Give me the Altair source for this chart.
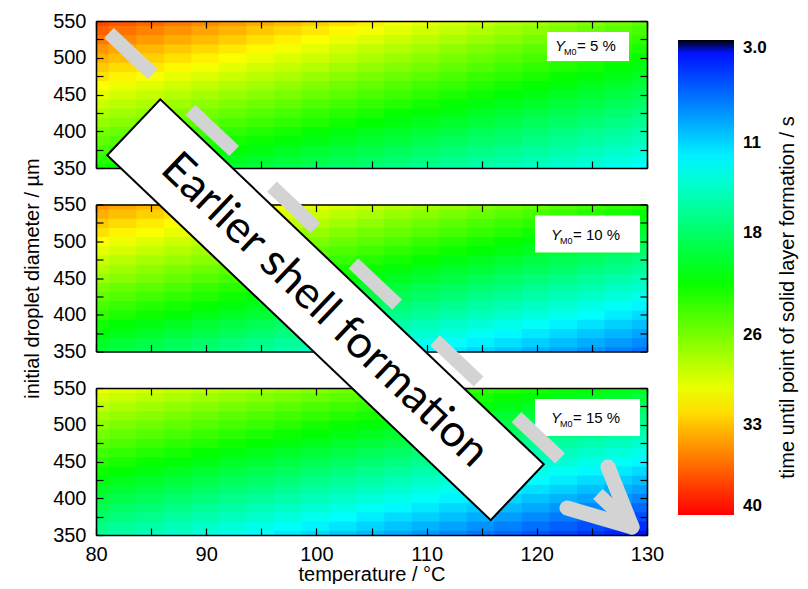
import altair as alt
import pandas as pd

FONT = "Liberation Sans"

# grid of the maps (cell centres)
temperatures = [80, 82.5, 85, 87.5, 90, 92.5, 95, 97.5, 100, 102.5, 105,
                107.5, 110, 112.5, 115, 117.5, 120, 122.5, 125, 127.5, 130]
diameters = [350, 362.5, 375, 387.5, 400, 412.5, 425, 437.5, 450, 462.5,
             475, 487.5, 500, 512.5, 525, 537.5, 550]

# time until solid layer formation / s (rows: diameter 350 -> 550)
time_y5 = [
    [22.2, 21.7, 21.2, 20.7, 20.3, 19.8, 19.3, 18.8, 18.3, 17.8, 17.4, 16.9, 16.4, 15.9, 15.4, 14.9, 14.4, 14.0, 13.5, 13.0, 12.5],
    [23.2, 22.7, 22.2, 21.7, 21.2, 20.7, 20.2, 19.7, 19.2, 18.7, 18.2, 17.7, 17.2, 16.7, 16.2, 15.8, 15.3, 14.8, 14.3, 13.8, 13.3],
    [24.1, 23.6, 23.1, 22.6, 22.1, 21.6, 21.1, 20.6, 20.1, 19.6, 19.1, 18.6, 18.1, 17.6, 17.1, 16.6, 16.1, 15.6, 15.1, 14.6, 14.1],
    [25.1, 24.6, 24.1, 23.5, 23.0, 22.5, 22.0, 21.5, 21.0, 20.5, 20.0, 19.5, 18.9, 18.4, 17.9, 17.4, 16.9, 16.4, 15.9, 15.4, 14.9],
    [26.0, 25.5, 25.0, 24.5, 23.9, 23.4, 22.9, 22.4, 21.9, 21.3, 20.8, 20.3, 19.8, 19.3, 18.7, 18.2, 17.7, 17.2, 16.7, 16.1, 15.6],
    [27.0, 26.5, 25.9, 25.4, 24.9, 24.3, 23.8, 23.3, 22.8, 22.2, 21.7, 21.2, 20.6, 20.1, 19.6, 19.0, 18.5, 18.0, 17.5, 16.9, 16.4],
    [27.9, 27.4, 26.9, 26.3, 25.8, 25.3, 24.7, 24.2, 23.6, 23.1, 22.6, 22.0, 21.5, 21.0, 20.4, 19.9, 19.3, 18.8, 18.3, 17.7, 17.2],
    [28.9, 28.3, 27.8, 27.3, 26.7, 26.2, 25.6, 25.1, 24.5, 24.0, 23.4, 22.9, 22.3, 21.8, 21.2, 20.7, 20.2, 19.6, 19.1, 18.5, 18.0],
    [29.9, 29.3, 28.7, 28.2, 27.6, 27.1, 26.5, 26.0, 25.4, 24.9, 24.3, 23.8, 23.2, 22.6, 22.1, 21.5, 21.0, 20.4, 19.9, 19.3, 18.8],
    [30.8, 30.2, 29.7, 29.1, 28.5, 28.0, 27.4, 26.9, 26.3, 25.7, 25.2, 24.6, 24.0, 23.5, 22.9, 22.3, 21.8, 21.2, 20.6, 20.1, 19.5],
    [31.8, 31.2, 30.6, 30.0, 29.5, 28.9, 28.3, 27.8, 27.2, 26.6, 26.0, 25.5, 24.9, 24.3, 23.7, 23.2, 22.6, 22.0, 21.5, 20.9, 20.3],
    [32.7, 32.1, 31.6, 31.0, 30.4, 29.8, 29.2, 28.7, 28.1, 27.5, 26.9, 26.3, 25.8, 25.2, 24.6, 24.0, 23.4, 22.8, 22.3, 21.7, 21.1],
    [33.7, 33.1, 32.5, 31.9, 31.3, 30.7, 30.1, 29.5, 29.0, 28.4, 27.8, 27.2, 26.6, 26.0, 25.4, 24.8, 24.2, 23.6, 23.1, 22.5, 21.9],
    [34.6, 34.0, 33.4, 32.8, 32.2, 31.6, 31.0, 30.4, 29.8, 29.2, 28.6, 28.0, 27.4, 26.8, 26.2, 25.6, 25.0, 24.4, 23.8, 23.2, 22.6],
    [35.6, 35.0, 34.4, 33.8, 33.2, 32.6, 31.9, 31.3, 30.7, 30.1, 29.5, 28.9, 28.3, 27.7, 27.1, 26.5, 25.9, 25.3, 24.7, 24.1, 23.4],
    [36.5, 35.9, 35.3, 34.7, 34.1, 33.5, 32.8, 32.2, 31.6, 31.0, 30.4, 29.8, 29.1, 28.5, 27.9, 27.3, 26.7, 26.1, 25.5, 24.8, 24.2],
    [37.5, 36.9, 36.3, 35.6, 35.0, 34.4, 33.8, 33.1, 32.5, 31.9, 31.3, 30.6, 30.0, 29.4, 28.8, 28.1, 27.5, 26.9, 26.3, 25.6, 25.0],
]
time_y10 = [
    [19.5, 18.9, 18.3, 17.7, 17.1, 16.5, 15.9, 15.3, 14.7, 14.1, 13.5, 12.8, 12.2, 11.6, 11.0, 10.4, 9.8, 9.2, 8.6, 8.0, 7.4],
    [20.4, 19.8, 19.2, 18.6, 18.0, 17.4, 16.8, 16.2, 15.6, 15.0, 14.4, 13.8, 13.2, 12.6, 12.0, 11.4, 10.8, 10.2, 9.6, 9.0, 8.4],
    [21.4, 20.8, 20.2, 19.6, 19.0, 18.4, 17.8, 17.2, 16.6, 16.0, 15.4, 14.8, 14.2, 13.6, 12.9, 12.3, 11.7, 11.1, 10.5, 9.9, 9.3],
    [22.3, 21.7, 21.1, 20.5, 19.9, 19.3, 18.7, 18.1, 17.5, 16.9, 16.3, 15.7, 15.1, 14.5, 13.9, 13.3, 12.7, 12.1, 11.5, 10.9, 10.3],
    [23.3, 22.7, 22.1, 21.5, 20.9, 20.3, 19.7, 19.1, 18.5, 17.9, 17.3, 16.7, 16.1, 15.5, 14.9, 14.3, 13.7, 13.1, 12.5, 11.9, 11.3],
    [24.2, 23.6, 23.0, 22.4, 21.8, 21.2, 20.6, 20.0, 19.4, 18.8, 18.2, 17.6, 17.0, 16.4, 15.8, 15.2, 14.6, 14.0, 13.4, 12.8, 12.2],
    [25.2, 24.6, 24.0, 23.4, 22.8, 22.2, 21.6, 21.0, 20.4, 19.8, 19.2, 18.6, 18.0, 17.4, 16.8, 16.2, 15.6, 15.0, 14.4, 13.8, 13.2],
    [26.1, 25.5, 24.9, 24.3, 23.7, 23.1, 22.5, 21.9, 21.3, 20.7, 20.1, 19.5, 18.9, 18.3, 17.7, 17.1, 16.5, 15.9, 15.3, 14.7, 14.2],
    [27.1, 26.5, 25.9, 25.3, 24.7, 24.1, 23.5, 22.9, 22.3, 21.7, 21.1, 20.5, 19.9, 19.3, 18.7, 18.1, 17.5, 16.9, 16.3, 15.7, 15.1],
    [28.0, 27.4, 26.8, 26.2, 25.6, 25.0, 24.4, 23.8, 23.2, 22.6, 22.0, 21.4, 20.8, 20.2, 19.7, 19.1, 18.5, 17.9, 17.3, 16.7, 16.1],
    [28.9, 28.3, 27.7, 27.2, 26.6, 26.0, 25.4, 24.8, 24.2, 23.6, 23.0, 22.4, 21.8, 21.2, 20.6, 20.0, 19.4, 18.8, 18.2, 17.6, 17.0],
    [29.9, 29.3, 28.7, 28.1, 27.5, 26.9, 26.3, 25.7, 25.1, 24.5, 23.9, 23.3, 22.7, 22.1, 21.6, 21.0, 20.4, 19.8, 19.2, 18.6, 18.0],
    [30.8, 30.2, 29.6, 29.0, 28.5, 27.9, 27.3, 26.7, 26.1, 25.5, 24.9, 24.3, 23.7, 23.1, 22.5, 21.9, 21.3, 20.7, 20.1, 19.5, 19.0],
    [31.8, 31.2, 30.6, 30.0, 29.4, 28.8, 28.2, 27.6, 27.0, 26.4, 25.8, 25.3, 24.7, 24.1, 23.5, 22.9, 22.3, 21.7, 21.1, 20.5, 19.9],
    [32.7, 32.1, 31.5, 30.9, 30.4, 29.8, 29.2, 28.6, 28.0, 27.4, 26.8, 26.2, 25.6, 25.0, 24.4, 23.8, 23.3, 22.7, 22.1, 21.5, 20.9],
    [33.7, 33.1, 32.5, 31.9, 31.3, 30.7, 30.1, 29.5, 28.9, 28.3, 27.8, 27.2, 26.6, 26.0, 25.4, 24.8, 24.2, 23.6, 23.0, 22.4, 21.8],
    [34.6, 34.0, 33.4, 32.8, 32.2, 31.7, 31.1, 30.5, 29.9, 29.3, 28.7, 28.1, 27.5, 26.9, 26.3, 25.8, 25.2, 24.6, 24.0, 23.4, 22.8],
]
time_y15 = [
    [16.0, 15.4, 14.8, 14.2, 13.6, 13.0, 12.4, 11.8, 11.2, 10.6, 10.0, 9.4, 8.8, 8.2, 7.6, 7.0, 6.4, 5.8, 5.2, 4.6, 4.0],
    [16.9, 16.3, 15.7, 15.1, 14.5, 13.9, 13.3, 12.7, 12.1, 11.6, 11.0, 10.4, 9.8, 9.2, 8.6, 8.0, 7.4, 6.8, 6.2, 5.6, 5.0],
    [17.8, 17.2, 16.6, 16.0, 15.4, 14.9, 14.3, 13.7, 13.1, 12.5, 11.9, 11.3, 10.8, 10.2, 9.6, 9.0, 8.4, 7.8, 7.2, 6.7, 6.1],
    [18.7, 18.1, 17.5, 16.9, 16.3, 15.8, 15.2, 14.6, 14.0, 13.5, 12.9, 12.3, 11.7, 11.1, 10.6, 10.0, 9.4, 8.8, 8.3, 7.7, 7.1],
    [19.6, 19.0, 18.4, 17.8, 17.3, 16.7, 16.1, 15.6, 15.0, 14.4, 13.8, 13.3, 12.7, 12.1, 11.6, 11.0, 10.4, 9.8, 9.3, 8.7, 8.1],
    [20.4, 19.9, 19.3, 18.7, 18.2, 17.6, 17.1, 16.5, 15.9, 15.4, 14.8, 14.2, 13.7, 13.1, 12.5, 12.0, 11.4, 10.9, 10.3, 9.7, 9.2],
    [21.3, 20.8, 20.2, 19.7, 19.1, 18.5, 18.0, 17.4, 16.9, 16.3, 15.8, 15.2, 14.6, 14.1, 13.5, 13.0, 12.4, 11.9, 11.3, 10.8, 10.2],
    [22.2, 21.7, 21.1, 20.6, 20.0, 19.5, 18.9, 18.4, 17.8, 17.3, 16.7, 16.2, 15.6, 15.1, 14.5, 14.0, 13.4, 12.9, 12.3, 11.8, 11.2],
    [23.1, 22.6, 22.0, 21.5, 20.9, 20.4, 19.9, 19.3, 18.8, 18.2, 17.7, 17.1, 16.6, 16.1, 15.5, 15.0, 14.4, 13.9, 13.3, 12.8, 12.3],
    [24.0, 23.5, 22.9, 22.4, 21.8, 21.3, 20.8, 20.2, 19.7, 19.2, 18.6, 18.1, 17.6, 17.0, 16.5, 16.0, 15.4, 14.9, 14.4, 13.8, 13.3],
    [24.9, 24.4, 23.8, 23.3, 22.8, 22.2, 21.7, 21.2, 20.7, 20.1, 19.6, 19.1, 18.5, 18.0, 17.5, 17.0, 16.4, 15.9, 15.4, 14.8, 14.3],
    [25.8, 25.2, 24.7, 24.2, 23.7, 23.2, 22.6, 22.1, 21.6, 21.1, 20.6, 20.0, 19.5, 19.0, 18.5, 18.0, 17.4, 16.9, 16.4, 15.9, 15.3],
    [26.7, 26.1, 25.6, 25.1, 24.6, 24.1, 23.6, 23.1, 22.5, 22.0, 21.5, 21.0, 20.5, 20.0, 19.5, 18.9, 18.4, 17.9, 17.4, 16.9, 16.4],
    [27.5, 27.0, 26.5, 26.0, 25.5, 25.0, 24.5, 24.0, 23.5, 23.0, 22.5, 22.0, 21.5, 21.0, 20.5, 19.9, 19.4, 18.9, 18.4, 17.9, 17.4],
    [28.4, 27.9, 27.4, 26.9, 26.4, 25.9, 25.4, 24.9, 24.4, 23.9, 23.4, 22.9, 22.4, 21.9, 21.4, 20.9, 20.4, 19.9, 19.4, 18.9, 18.4],
    [29.3, 28.8, 28.3, 27.8, 27.3, 26.9, 26.4, 25.9, 25.4, 24.9, 24.4, 23.9, 23.4, 22.9, 22.4, 21.9, 21.4, 20.9, 20.5, 20.0, 19.5],
    [30.2, 29.7, 29.2, 28.7, 28.3, 27.8, 27.3, 26.8, 26.3, 25.8, 25.4, 24.9, 24.4, 23.9, 23.4, 22.9, 22.4, 22.0, 21.5, 21.0, 20.5],
]

panel_labels = ["5 %", "10 %", "15 %"]
x_ticks = [80, 85, 90, 95, 100, 105, 110, 115, 120, 125, 130]
y_ticks = [350, 375, 400, 425, 450, 475, 500, 525, 550]
cbar_ticks = [3, 11, 18, 26, 33, 40]
color_domain = [40, 30.8, 21.7, 12.5, 3.4, 3.0]
color_range = ["#ff0000", "#ffff00", "#00ff00", "#00ffff", "#0000ff", "#000000"]
cbar_title = "time until point of solid layer formation / s"
note_text = "Earlier shell formation"

W, H = 551, 147
GAP = 36.5


def grid_frame(values):
    # cells slightly overlap their neighbours so no hairline seams show
    half_t = (temperatures[1] - temperatures[0]) / 2 * 1.08
    half_d = (diameters[1] - diameters[0]) / 2 * 1.08
    t_lo, t_hi = temperatures[0], temperatures[-1]
    d_lo, d_hi = diameters[0], diameters[-1]
    rows = []
    for j, d in enumerate(diameters):
        for i, t in enumerate(temperatures):
            rows.append({
                "T0": max(t_lo, t - half_t), "T1": min(t_hi, t + half_t),
                "D0": max(d_lo, d - half_d), "D1": min(d_hi, d + half_d),
                "v": values[j][i],
            })
    return pd.DataFrame(rows)


cscale = alt.Scale(domain=color_domain, range=color_range, interpolate="rgb")
xscale = alt.Scale(domain=[80, 130], nice=False, zero=False)
yscale = alt.Scale(domain=[350, 550], nice=False, zero=False)

legend = alt.Legend(
    type="gradient", orient="none", legendX=582, legendY=19, direction="vertical",
    gradientLength=475, gradientThickness=56, gradientStrokeWidth=0,
    values=cbar_ticks,
    labelExpr="datum.value == 3 ? '3.0' : datum.label",
    labelFont=FONT, labelFontSize=17, labelFontWeight="bold", labelColor="black",
    labelOffset=9, labelOverlap=False, labelBaseline="middle",
    title=None, padding=0,
)

TICK = {"expr": "-7"}


def axis_common():
    return dict(tickSize=TICK, tickColor="black", tickWidth=1.2, domainColor="black",
                domainWidth=1.6, grid=False, zindex=1, minExtent=0,
                labelFont=FONT, labelFontSize=20, labelColor="black",
                labelOverlap=False, labelFlush=False,
                titleFont=FONT, titleFontSize=20, titleFontWeight="normal", titleColor="black")


one = pd.DataFrame({"k": [0]})


def txt(text, x, y, size, style="normal", angle=0, align="left", baseline="alphabetic", font=FONT):
    return alt.Chart(one).mark_text(
        text=text, font=font, fontSize=size, fontStyle=style, align=align, angle=angle,
        baseline=baseline, color="black",
    ).encode(x=alt.value(x), y=alt.value(y))


def rule(x, y, x2, y2, **kw):
    return alt.Chart(one).mark_rule(**kw).encode(
        x=alt.value(x), y=alt.value(y), x2=alt.value(x2), y2=alt.value(y2))


def panel(values, label, idx):
    df = grid_frame(values)
    bottom = idx == 2
    xa = alt.Axis(orient="bottom", values=x_ticks, labels=bottom,
                  labelExpr="datum.value % 10 == 0 ? datum.label : ''",
                  labelPadding=16, title="temperature / °C" if bottom else "",
                  titlePadding=0, **axis_common())
    ya = alt.Axis(orient="left", values=y_ticks,
                  labelExpr="datum.value % 50 == 0 ? datum.label : ''",
                  labelPadding=17,
                  title="initial droplet diameter / µm" if idx == 1 else "",
                  titlePadding=10, **axis_common())
    heat = alt.Chart(df).mark_rect().encode(
        x=alt.X("T0:Q", scale=xscale, axis=xa),
        x2="T1:Q",
        y=alt.Y("D0:Q", scale=yscale, axis=ya),
        y2="D1:Q",
        color=alt.Color("v:Q", scale=cscale, legend=legend),
    )
    xt = alt.Axis(orient="top", values=x_ticks, labels=False, title="", **axis_common())
    yr = alt.Axis(orient="right", values=y_ticks, labels=False, title="", **axis_common())
    frame = alt.Chart(pd.DataFrame({"T": [80, 130], "D": [350, 550]})).mark_point(opacity=0).encode(
        x=alt.X("T:Q", scale=xscale, axis=xt),
        y=alt.Y("D:Q", scale=yscale, axis=yr),
    )
    layers = [heat, frame]
    if idx == 0:
        bx0, bx1, by0, by1, base = 451, 533, 11, 40, 30
        yx = 459
    else:
        bx0, bx1, by0, by1, base = 439, 544, 11, 48, 35
        yx = 455
    layers.append(alt.Chart(one).mark_rect(color="white").encode(
        x=alt.value(bx0), x2=alt.value(bx1), y=alt.value(by0), y2=alt.value(by1)))
    layers.append(txt("Y", yx, base, 15, "italic"))
    layers.append(txt("M0", yx + 9, base + 4, 9))
    layers.append(txt("= " + label, yx + 22, base, 15))

    if idx == 1:
        layers.append(txt(cbar_title, 692, 93, 20, angle=270, align="center", baseline="middle"))

    return alt.layer(*layers).resolve_axis(x="independent", y="independent").properties(width=W, height=H)


# overlay view placed below the third panel; drawn last so it sits above every panel
OX, OY = 0, -(3 * H + 3 * GAP)   # offsets back to the first panel's origin


def overlay():
    gray = "#d3d3d3"
    L = []
    L.append(rule(13 + OX, 12 + OY, 538 + OX, 507 + OY, color=gray, strokeWidth=14,
                  strokeDash=[60, 52], strokeCap="butt"))
    L.append(rule(471 + OX, 487 + OY, 536 + OX, 506 + OY, color=gray, strokeWidth=15, strokeCap="round"))
    L.append(rule(512 + OX, 446 + OY, 536 + OX, 506 + OY, color=gray, strokeWidth=15, strokeCap="round"))
    L.append(rule(37.0 + OX, 105.6 + OY, 422.0 + OX, 471.9 + OY, color="black", strokeWidth=79, strokeCap="butt"))
    L.append(rule(38.5 + OX, 107 + OY, 420.5 + OX, 470.5 + OY, color="white", strokeWidth=75, strokeCap="butt"))
    L.append(txt(note_text, 229 + OX, 289 + OY, 45, angle=43.6, align="center", baseline="middle", font="Lato"))
    return alt.layer(*L).properties(width=W, height=1)


chart = alt.vconcat(
    panel(time_y5, panel_labels[0], 0),
    panel(time_y10, panel_labels[1], 1),
    panel(time_y15, panel_labels[2], 2),
    overlay(),
    spacing=GAP, bounds="flush",
).properties(
    padding={"left": 22, "top": 11, "right": 5, "bottom": 0}
).configure_view(stroke=None)

chart.save("out.html", embed_options={"renderer": "svg", "actions": False})
